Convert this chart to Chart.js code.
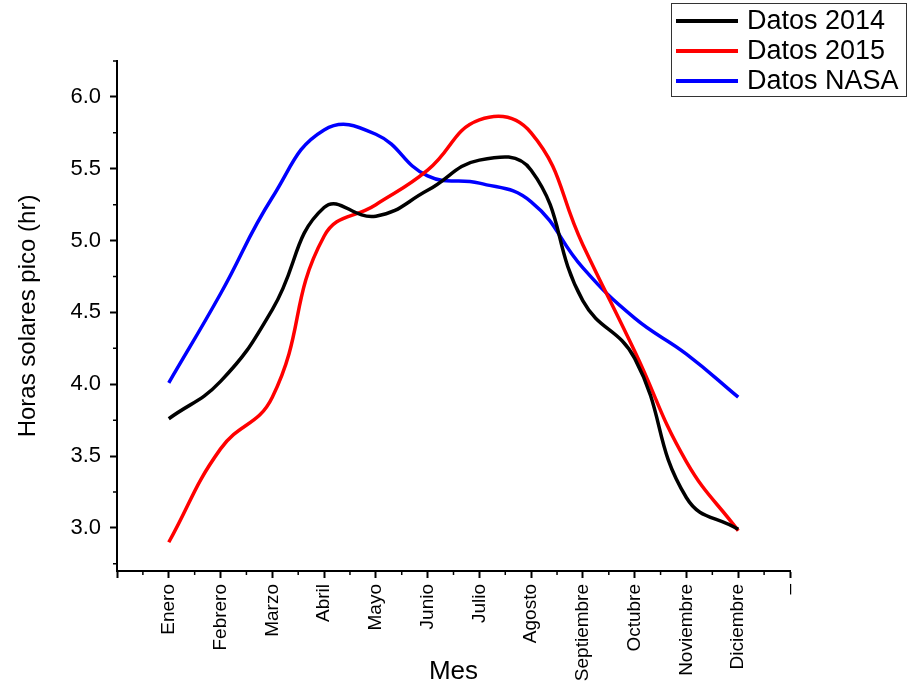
<!DOCTYPE html>
<html>
<head>
<meta charset="utf-8">
<script src="https://cdn.jsdelivr.net/npm/chart.js@4/dist/chart.umd.min.js"></script>
<style>
  html, body { margin: 0; padding: 0; background: #fff; }
  #wrap { width: 907px; height: 687px; }
</style>
</head>
<body>
<div id="wrap"><canvas id="horasChart" width="907" height="687"></canvas></div>
<script>
const meses = ['Enero', 'Febrero', 'Marzo', 'Abril', 'Mayo', 'Junio', 'Julio',
               'Agosto', 'Septiembre', 'Octubre', 'Noviembre', 'Diciembre'];
const datos2014 = [3.76, 4.02, 4.52, 5.23, 5.17, 5.35, 5.56, 5.49, 4.58, 4.18, 3.21, 2.99];
const datos2015 = [2.90, 3.55, 3.91, 5.03, 5.25, 5.49, 5.84, 5.75, 4.97, 4.23, 3.46, 2.98];
const datosNasa = [4.01, 4.63, 5.30, 5.77, 5.74, 5.45, 5.40, 5.27, 4.81, 4.46, 4.21, 3.91];
const nombres = ['Datos 2014', 'Datos 2015', 'Datos NASA'];
const colores = ['#000000', '#ff0000', '#0000ff'];

const fuente = "'Liberation Sans', Arial, sans-serif";

function puntos(valores) {
    return valores.map((v, i) => ({ x: i, y: v }));
}

// minor ticks + boxed legend in the top right corner
const extras = {
    id: 'extras',
    afterDraw(chart) {
        const ctx = chart.ctx;
        const xs = chart.scales.x, ys = chart.scales.y;
        ctx.save();
        ctx.strokeStyle = '#000';
        ctx.lineWidth = 1.5;
        ctx.beginPath();
        for (let v = -0.5; v < 12; v += 1) {
            const px = xs.getPixelForValue(v);
            ctx.moveTo(px, xs.top);
            ctx.lineTo(px, xs.top + 4);
        }
        for (let v = 2.75; v <= 6.26; v += 0.5) {
            const py = ys.getPixelForValue(v);
            ctx.moveTo(ys.right - 4, py);
            ctx.lineTo(ys.right, py);
        }
        ctx.stroke();

        ctx.lineWidth = 1;
        ctx.strokeStyle = '#333';
        ctx.strokeRect(671.5, 3.5, 235, 93);
        ctx.font = '27px ' + fuente;
        ctx.textBaseline = 'middle';
        ctx.fillStyle = '#000';
        chart.data.datasets.forEach((ds, i) => {
            const y = 21 + i * 30;
            ctx.strokeStyle = ds.borderColor;
            ctx.lineWidth = 4;
            ctx.beginPath();
            ctx.moveTo(676, y);
            ctx.lineTo(738, y);
            ctx.stroke();
            ctx.fillText(ds.label, 747, y + 1);
        });
        ctx.restore();
    }
};

const series = [datos2014, datos2015, datosNasa];

new Chart(document.getElementById('horasChart'), {
    type: 'line',
    data: {
        datasets: series.map((s, i) => ({
            label: nombres[i],
            data: puntos(s),
            borderColor: colores[i],
            backgroundColor: colores[i],
            borderWidth: 3.5,
            pointRadius: 0,
            tension: 0.45,
            fill: false
        }))
    },
    options: {
        responsive: false,
        animation: false,
        layout: { padding: { top: 61, right: 117, left: 0, bottom: 0 } },
        plugins: {
            legend: { display: false },
            tooltip: { enabled: false }
        },
        scales: {
            x: {
                type: 'linear',
                min: -1,
                max: 12,
                afterFit(scale) { scale.height = 116; },
                border: { display: true, color: '#000', width: 2 },
                grid: { drawOnChartArea: false, drawTicks: true, tickLength: 7, tickColor: '#000', tickWidth: 2 },
                ticks: {
                    stepSize: 1,
                    maxTicksLimit: 100,
                    autoSkip: false,
                    minRotation: 90,
                    maxRotation: 90,
                    padding: 6,
                    color: '#000',
                    font: { family: fuente, size: 19 },
                    callback: function (v) {
                        if (v === 12) return '–';
                        if (v >= 0 && v < 12 && Number.isInteger(v)) return meses[v];
                        return '';
                    }
                },
                title: {
                    display: true,
                    text: 'Mes',
                    color: '#000',
                    font: { family: fuente, size: 26 },
                    padding: { top: 0, bottom: 0 }
                }
            },
            y: {
                min: 2.7,
                max: 6.25,
                afterFit(scale) { scale.width = 117; },
                afterBuildTicks(scale) {
                    scale.ticks = scale.ticks.filter(t => Math.abs(t.value * 2 - Math.round(t.value * 2)) < 1e-6);
                },
                border: { display: true, color: '#000', width: 2 },
                grid: { drawOnChartArea: false, drawTicks: true, tickLength: 7, tickColor: '#000', tickWidth: 2 },
                ticks: {
                    stepSize: 0.5,
                    maxTicksLimit: 100,
                    padding: 9,
                    color: '#000',
                    font: { family: fuente, size: 22 },
                    callback: v => v.toFixed(1)
                },
                title: {
                    display: true,
                    text: 'Horas solares pico (hr)',
                    color: '#000',
                    font: { family: fuente, size: 24 },
                    padding: { top: 14, bottom: 0 }
                }
            }
        }
    },
    plugins: [extras]
});
</script>
</body>
</html>
